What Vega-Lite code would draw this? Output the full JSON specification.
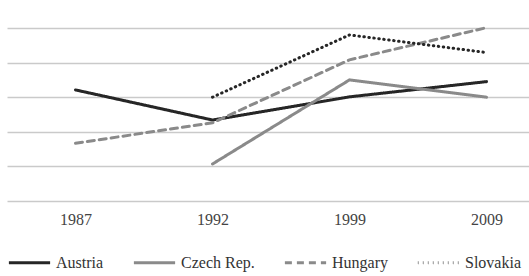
{
  "$schema": "https://vega.github.io/schema/vega-lite/v6.json",
  "autosize": "none",
  "width": 548,
  "height": 173,
  "padding": {"left": 7, "top": 28, "right": -26, "bottom": 75},
  "background": "white",
  "config": {
    "view": {"stroke": null},
    "font": "Liberation Serif"
  },
  "data": {
    "values": [
      {"year": "1987", "country": "Austria", "value": 32.1},
      {"year": "1992", "country": "Austria", "value": 23.4},
      {"year": "1999", "country": "Austria", "value": 30.1},
      {"year": "2009", "country": "Austria", "value": 34.5},
      {"year": "1992", "country": "Czech Rep.", "value": 10.7},
      {"year": "1999", "country": "Czech Rep.", "value": 35.0},
      {"year": "2009", "country": "Czech Rep.", "value": 30.0},
      {"year": "1987", "country": "Hungary", "value": 16.7},
      {"year": "1992", "country": "Hungary", "value": 22.6},
      {"year": "1999", "country": "Hungary", "value": 40.8},
      {"year": "2009", "country": "Hungary", "value": 50.1},
      {"year": "1992", "country": "Slovakia", "value": 30.0},
      {"year": "1999", "country": "Slovakia", "value": 48.0},
      {"year": "2009", "country": "Slovakia", "value": 42.9}
    ]
  },
  "mark": {"type": "line", "strokeWidth": 3, "strokeCap": "round"},
  "encoding": {
    "x": {
      "field": "year",
      "type": "ordinal",
      "scale": {"type": "point", "padding": 0.5},
      "axis": {
        "title": null,
        "labelAngle": 0,
        "domain": false,
        "ticks": false,
        "grid": false,
        "labelPadding": 10,
        "labelFont": "Liberation Serif",
        "labelFontSize": 16,
        "labelColor": "#444"
      }
    },
    "y": {
      "field": "value",
      "type": "quantitative",
      "scale": {"domain": [0, 50], "nice": false, "zero": true},
      "axis": {
        "title": null,
        "values": [0, 10, 20, 30, 40, 50],
        "labels": false,
        "ticks": false,
        "domain": false,
        "grid": true,
        "gridColor": "#cacaca",
        "gridWidth": 1.5
      }
    },
    "color": {
      "field": "country",
      "type": "nominal",
      "scale": {
        "domain": ["Austria", "Czech Rep.", "Hungary", "Slovakia"],
        "range": ["#262626", "#8a8a8a", "#8a8a8a", "#262626"]
      },
      "legend": {
        "title": null,
        "orient": "bottom",
        "direction": "horizontal",
        "symbolType": "stroke",
        "symbolSize": 1700,
        "symbolStrokeWidth": 3,
        "labelFont": "Liberation Serif",
        "labelFontSize": 16,
        "labelColor": "#333",
        "labelOffset": 4,
        "columnPadding": 23,
        "offset": 13,
        "padding": 0
      }
    },
    "strokeDash": {
      "field": "country",
      "type": "nominal",
      "scale": {
        "domain": ["Austria", "Czech Rep.", "Hungary", "Slovakia"],
        "range": [[1, 0], [1, 0], [7, 5], [0.5, 4.5]]
      },
      "legend": null
    }
  }
}
